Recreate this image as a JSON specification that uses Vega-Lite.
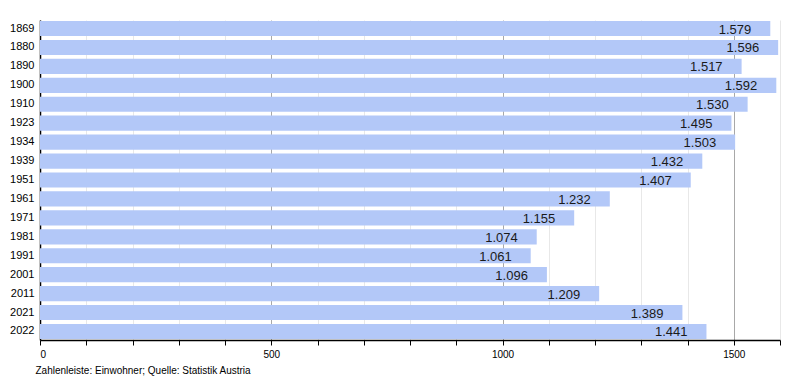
{
  "$schema": "https://vega.github.io/schema/vega-lite/v6.json",
  "width": 740,
  "height": 320,
  "autosize": {"type": "none"},
  "padding": {"left": 40, "top": 20, "right": 20, "bottom": 40},
  "background": "white",
  "config": {
    "font": "Liberation Sans",
    "view": {"stroke": null},
    "locale": {"number": {"decimal": ",", "thousands": ".", "grouping": [3], "currency": ["", " €"]}}
  },
  "data": {
    "values": [
      {"Jahr": "1869", "Einwohner": 1579},
      {"Jahr": "1880", "Einwohner": 1596},
      {"Jahr": "1890", "Einwohner": 1517},
      {"Jahr": "1900", "Einwohner": 1592},
      {"Jahr": "1910", "Einwohner": 1530},
      {"Jahr": "1923", "Einwohner": 1495},
      {"Jahr": "1934", "Einwohner": 1503},
      {"Jahr": "1939", "Einwohner": 1432},
      {"Jahr": "1951", "Einwohner": 1407},
      {"Jahr": "1961", "Einwohner": 1232},
      {"Jahr": "1971", "Einwohner": 1155},
      {"Jahr": "1981", "Einwohner": 1074},
      {"Jahr": "1991", "Einwohner": 1061},
      {"Jahr": "2001", "Einwohner": 1096},
      {"Jahr": "2011", "Einwohner": 1209},
      {"Jahr": "2021", "Einwohner": 1389},
      {"Jahr": "2022", "Einwohner": 1441}
    ]
  },
  "encoding": {
    "y": {
      "field": "Jahr", "type": "nominal", "sort": null,
      "scale": {"paddingInner": 0.2, "paddingOuter": 0.05},
      "axis": {
        "title": null, "ticks": false, "domainColor": "#000", "domainWidth": 1.5,
        "labelFontSize": 11, "labelColor": "#000", "labelPadding": 6
      }
    },
    "x": {
      "field": "Einwohner", "type": "quantitative",
      "scale": {"domain": [0, 1600], "nice": false},
      "axis": {
        "values": [0, 100, 200, 300, 400, 500, 600, 700, 800, 900, 1000, 1100, 1200, 1300, 1400, 1500, 1600],
        "labelExpr": "datum.value % 500 === 0 ? datum.value : ''",
        "format": "d",
        "grid": true,
        "gridColor": {"condition": {"test": "datum.value % 500 === 0", "value": "#a8a8a8"}, "value": "#e8e8e8"},
        "domainColor": "#000", "domainWidth": 1.5,
        "tickColor": "#000", "tickSize": 5,
        "labelFontSize": 10, "labelColor": "#000", "labelPadding": 4,
        "title": "Zahlenleiste: Einwohner; Quelle: Statistik Austria",
        "titleFontWeight": "normal", "titleFontSize": 10, "titleColor": "#000",
        "titleAnchor": "start", "titleAlign": "left", "titleX": -5, "titleY": 33,
        "titleBaseline": "alphabetic"
      }
    }
  },
  "layer": [
    {"mark": {"type": "bar", "color": "#b3c8f8"}},
    {
      "mark": {"type": "text", "align": "right", "dx": -19, "fontSize": 13, "color": "#1a1a1a", "baseline": "middle", "dy": 1},
      "encoding": {"text": {"field": "Einwohner", "type": "quantitative", "format": ",d"}}
    }
  ]
}
